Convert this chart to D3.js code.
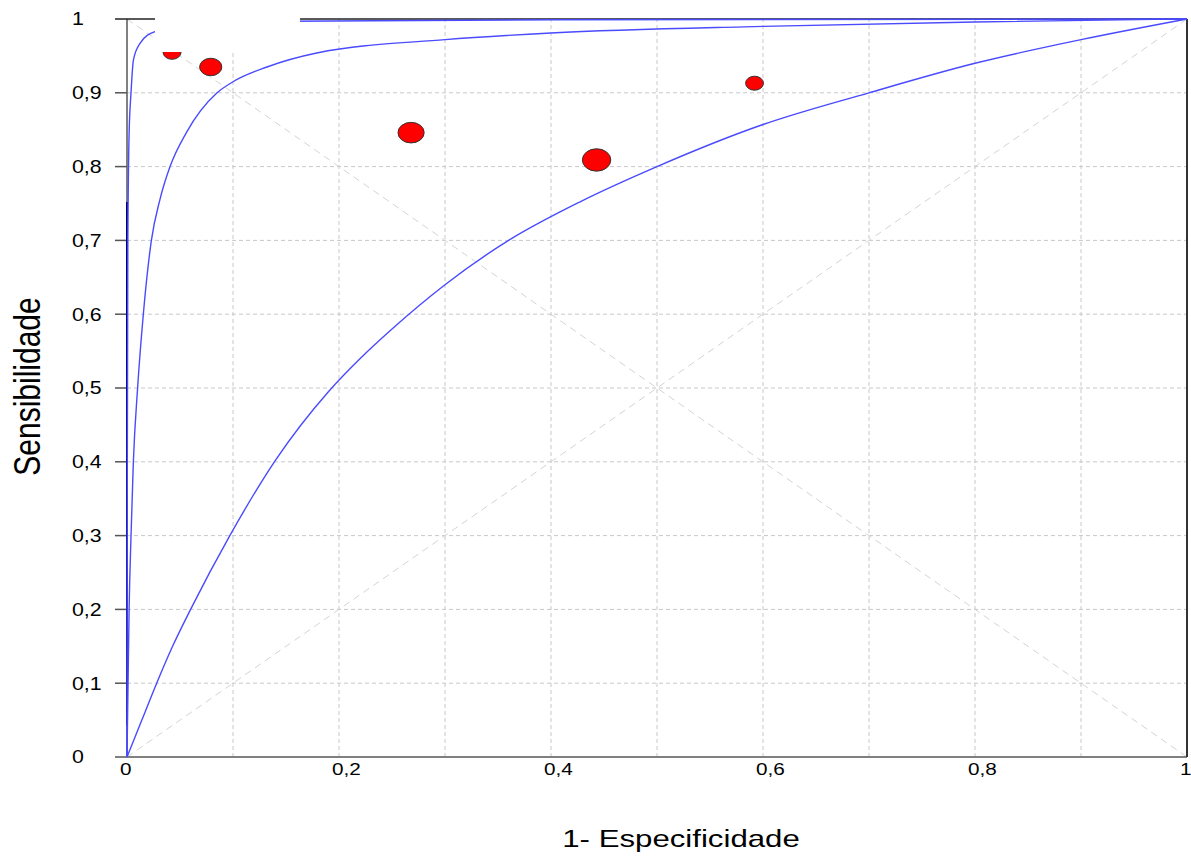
<!DOCTYPE html>
<html><head><meta charset="utf-8">
<script src="https://cdn.jsdelivr.net/npm/d3@7"></script>
<style>html,body{margin:0;padding:0;background:#fff;overflow:hidden}text{font-family:"Liberation Sans",Arial,sans-serif;fill:#000}</style>
</head><body><svg id="c" width="1191" height="858"></svg>
<script>
// ---- data ----
const xTicks = [0, 0.2, 0.4, 0.6, 0.8, 1];
const xTickLabels = ["0", "0,2", "0,4", "0,6", "0,8", "1"];
const yTicks = [0, 0.1, 0.2, 0.3, 0.4, 0.5, 0.6, 0.7, 0.8, 0.9, 1];
const yTickLabels = ["0", "0,1", "0,2", "0,3", "0,4", "0,5", "0,6", "0,7", "0,8", "0,9", "1"];
const gridValues = [0.1, 0.2, 0.3, 0.4, 0.5, 0.6, 0.7, 0.8, 0.9];

// study points: 1-specificity, sensitivity, weight
const studyFpr = [0.0425, 0.079, 0.268, 0.443, 0.592];
const studySens = [0.955, 0.935, 0.846, 0.809, 0.913];
const studyWeight = [50, 76, 106, 125, 49];

// ROC curves (1-specificity, sensitivity)
const curve1 = [[0,0],[0.0003,0.4],[0.0008,0.7],[0.002,0.845],[0.0038,0.9],[0.006,0.944],[0.0123,0.967],[0.0264,0.983],[0.06,0.992],[0.15,0.997],[0.4,0.999],[1,1]];
const curve2 = [[0,0],[0.001,0.1],[0.002,0.2],[0.0038,0.3],[0.006,0.4],[0.010,0.5],[0.0154,0.6],[0.023,0.7],[0.031,0.755],[0.0406,0.8],[0.056,0.846],[0.085,0.9],[0.1,0.915],[0.132,0.935],[0.179,0.954],[0.3,0.972],[0.4,0.981],[0.6,0.99],[0.8,0.996],[1,1]];
const curve3 = [[0,0],[0.014,0.05],[0.028,0.1],[0.043,0.15],[0.06,0.2],[0.097,0.3],[0.14,0.402],[0.19,0.495],[0.22,0.54],[0.25,0.58],[0.3,0.64],[0.36,0.7],[0.427,0.752],[0.5,0.8],[0.6,0.857],[0.7,0.9],[0.8,0.94],[0.9,0.972],[1,1]];
const darkSegment = [[0,0.043],[0,0.752]];
const diagonals = [[[0,0],[1,1]], [[0,1],[1,0]]];

// ---- layout ----
const svg = d3.select("#c");
const x = d3.scaleLinear().domain([0,1]).range([127,1187]);
const y = d3.scaleLinear().domain([0,1]).range([757,19]);
const rScale = d3.scaleSqrt().domain([0,125]).range([0,11.2]);
const stretch = 1.22;

// grid
const g = svg.append("g");
g.selectAll(".gv").data(gridValues).join("line")
  .attr("x1", d=>x(d)).attr("x2", d=>x(d)).attr("y1", y(0)).attr("y2", y(1))
  .attr("stroke", "#c8c8c8").attr("stroke-dasharray", "4,3").attr("stroke-width", 1);
g.selectAll(".gh").data(gridValues).join("line")
  .attr("x1", x(0)).attr("x2", x(1)).attr("y1", d=>y(d)).attr("y2", d=>y(d))
  .attr("stroke", "#c8c8c8").attr("stroke-dasharray", "4,3").attr("stroke-width", 1);
// diagonals
const line = d3.line().x(d=>x(d[0])).y(d=>y(d[1]));
g.selectAll(".dg").data(diagonals).join("path")
  .attr("d", line).attr("fill", "none").attr("stroke", "#d4d4d4")
  .attr("stroke-dasharray", "7,5").attr("stroke-width", 1);

// axes lines
svg.append("line").attr("x1", x(0)).attr("x2", x(0)).attr("y1", y(1)).attr("y2", y(0))
  .attr("stroke", "#808080").attr("stroke-width", 2);
svg.append("line").attr("x1", 115).attr("x2", x(1)).attr("y1", y(0)).attr("y2", y(0))
  .attr("stroke", "#808080").attr("stroke-width", 2);
svg.selectAll(".yt").data(yTicks.slice(1, -1)).join("line")
  .attr("x1", 115).attr("x2", x(0)).attr("y1", d=>y(d)).attr("y2", d=>y(d))
  .attr("stroke", "#555").attr("stroke-width", 1.5);
// frame
svg.append("line").attr("x1", 115).attr("x2", x(1)).attr("y1", y(1)).attr("y2", y(1))
  .attr("stroke", "#222").attr("stroke-width", 1.5);
svg.append("line").attr("x1", x(1)).attr("x2", x(1)).attr("y1", y(1)).attr("y2", y(0))
  .attr("stroke", "#333").attr("stroke-width", 2);

// dark segment on y axis
svg.append("path").datum(darkSegment).attr("d", line)
  .attr("stroke", "#000070").attr("stroke-width", 2).attr("fill", "none");

// curves
const cl = d3.line().x(d=>x(d[0])).y(d=>y(d[1])).curve(d3.curveMonotoneX);
svg.selectAll(".curve").data([curve1, curve2, curve3]).join("path")
  .attr("d", cl).attr("fill", "none").attr("stroke", "#4a4aff").attr("stroke-width", 1.4);

// points
const pts = studyFpr.map((v,i)=>({fx:v, s:studySens[i], w:studyWeight[i]}));
svg.selectAll(".pt").data(pts).join("ellipse")
  .attr("cx", d=>x(d.fx)).attr("cy", d=>y(d.s))
  .attr("rx", d=>rScale(d.w)*1.27).attr("ry", d=>rScale(d.w))
  .attr("fill", "#ff0000").attr("stroke", "#333").attr("stroke-width", 1);

// blank legend box
svg.append("rect").attr("x", 155).attr("y", 0).attr("width", 145).attr("height", 52)
  .attr("fill", "#ffffff");

// tick labels
svg.selectAll(".yl").data(yTicks).join("text")
  .attr("transform", (d)=>`translate(72,${y(d)+6.3}) scale(${stretch},1)`)
  .attr("font-size", 17.5).text((d,i)=>yTickLabels[i]);
svg.selectAll(".xl").data(xTicks).join("text")
  .attr("transform", (d)=>`translate(${x(d)-7},775) scale(${stretch},1)`)
  .attr("font-size", 17).text((d,i)=>xTickLabels[i]);

// axis titles
svg.append("text").attr("transform", `translate(681,847) scale(1.3,1)`)
  .attr("text-anchor", "middle").attr("font-size", 24).text("1- Especificidade");
svg.append("text").attr("transform", `translate(40,386.5) scale(1.23,1) rotate(-90)`)
  .attr("text-anchor", "middle").attr("font-size", 30).text("Sensibilidade");
</script></body></html>
